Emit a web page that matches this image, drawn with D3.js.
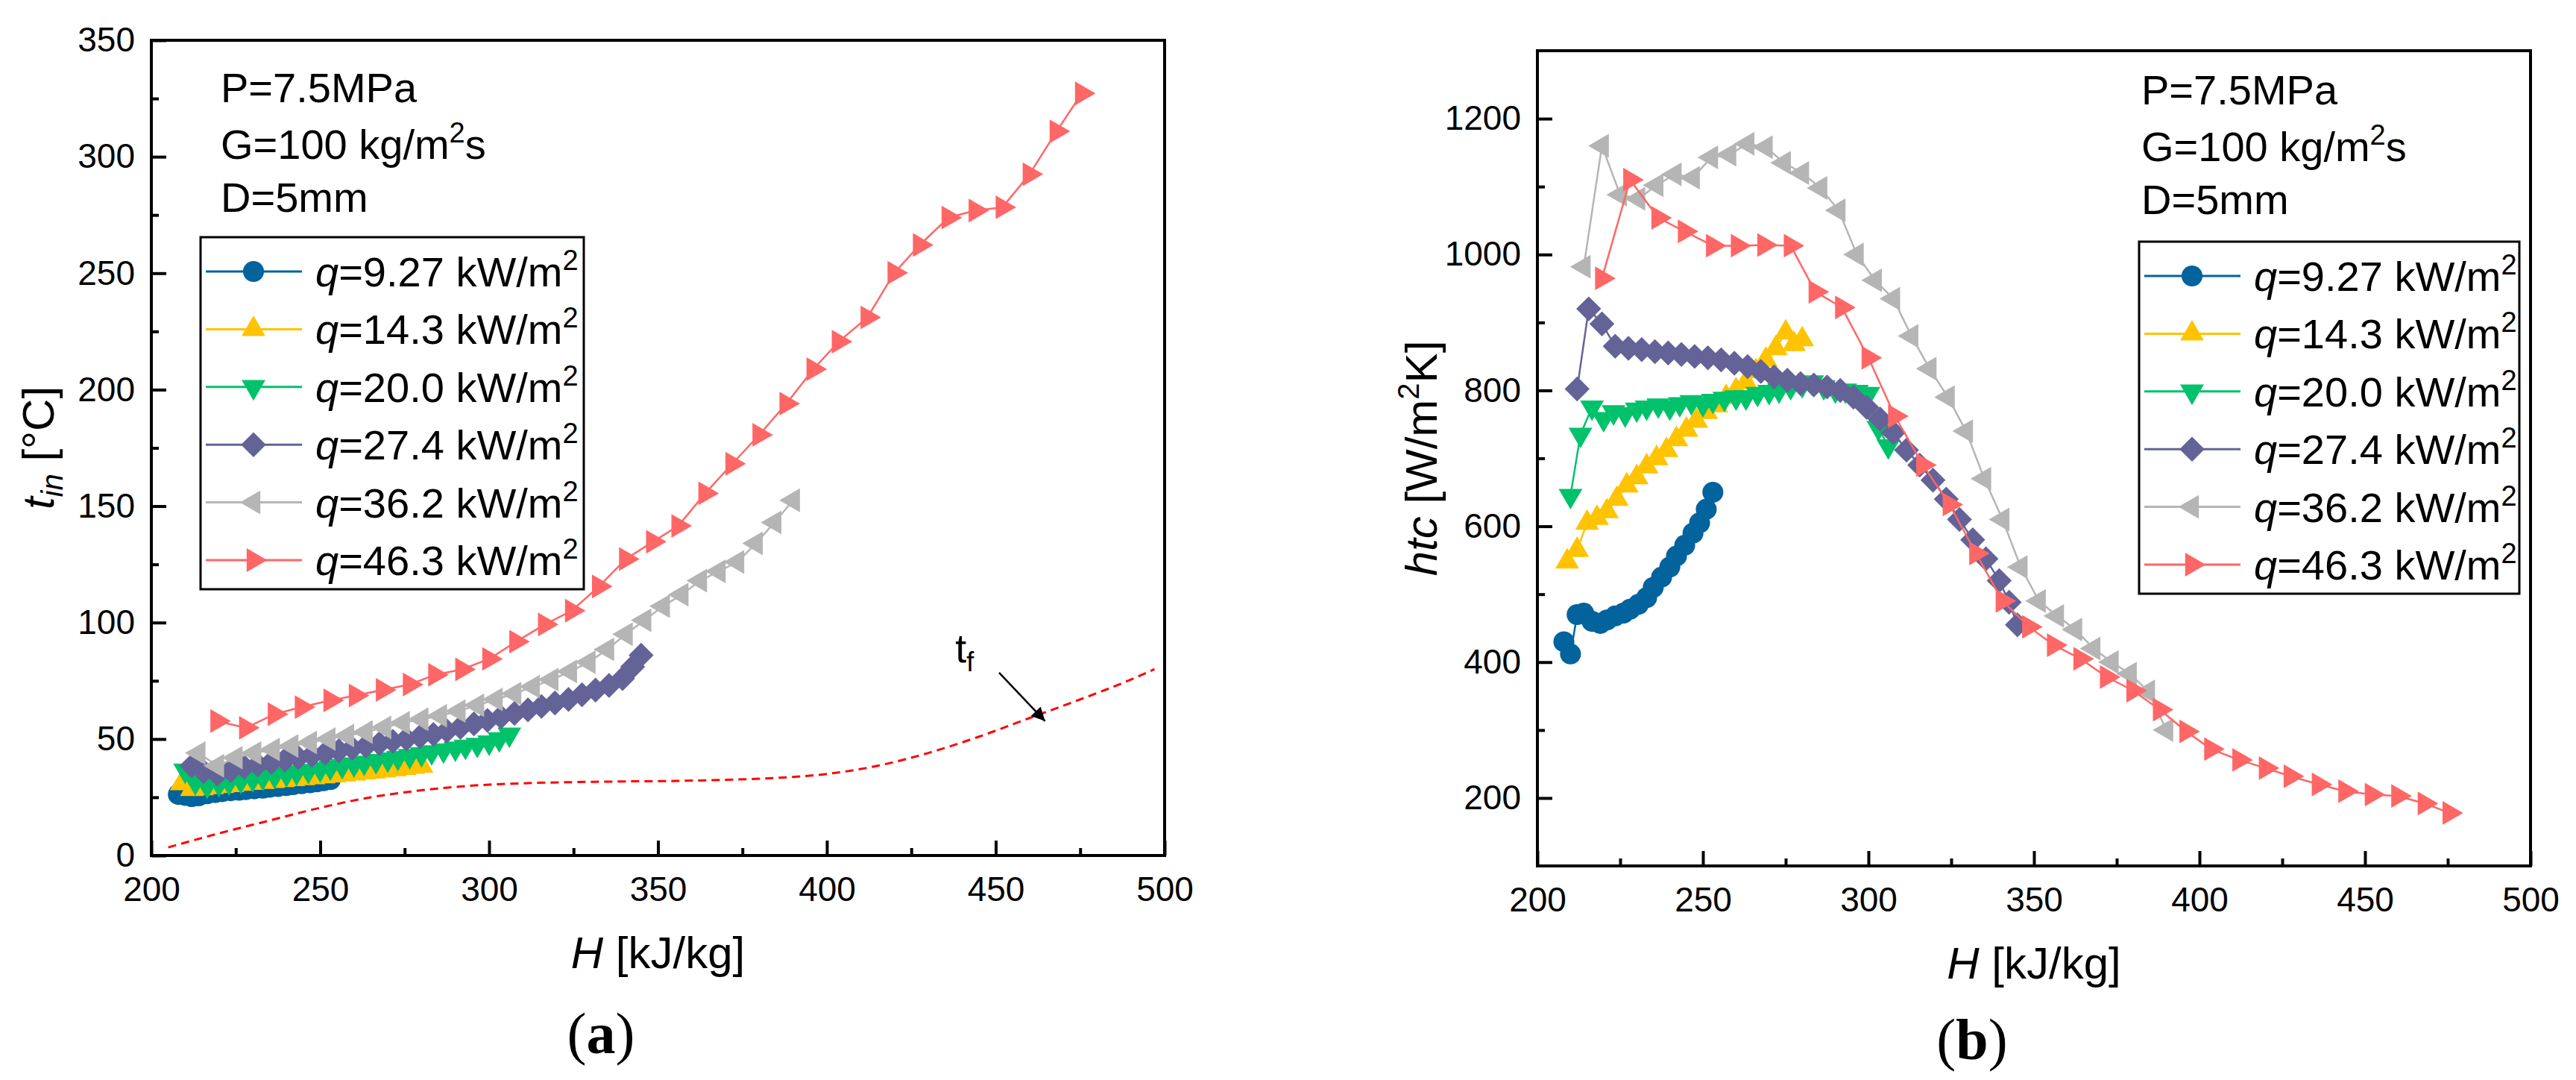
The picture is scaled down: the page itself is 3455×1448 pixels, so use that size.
<!doctype html>
<html lang="en">
  <head>
    <meta charset="UTF-8" />
    <title>tin and htc vs H</title>
    <style>
      body { margin: 0; background: #fff; }
      text { font-family: Arial, "Liberation Sans", sans-serif; }
    </style>
  </head>
  <body>
    <div id="target"></div>
    <script src="https://d3js.org/d3.v7.min.js"></script>
    <script>
      /* global d3 */
      const width = 3455,
        height = 1448;

      // H [kJ/kg], t_in [°C], htc [W/m2K]
      const hBlue = [208, 210, 212, 214, 216.5, 219, 221, 223.5, 226, 228, 230.5, 233, 235, 237.5, 240, 242, 244.5, 247, 249, 251, 253];
      const tBlue = [26.2, 25.8, 25.3, 25.6, 26.5, 27.0, 27.4, 27.8, 28.0, 28.3, 28.6, 28.9, 29.3, 29.6, 30.0, 30.4, 30.8, 31.2, 31.6, 32.1, 32.6];
      const htcBlue = [430, 412, 470, 472, 460, 457, 462, 468, 472, 478, 485, 495, 510, 525, 540, 556, 572, 590, 605, 625, 650];

      const hYellow = [209, 212, 215, 218, 221, 224, 227, 230, 233, 236, 239, 242, 245, 248, 251, 254, 257, 260, 263, 266, 269, 272, 275, 277.5, 280];
      const tYellow = [31.0, 28.5, 28.8, 29.3, 29.8, 30.2, 30.7, 31.1, 31.5, 31.9, 32.3, 32.7, 33.1, 33.5, 33.9, 34.3, 34.7, 35.1, 35.6, 36.0, 36.5, 37.0, 37.5, 38.0, 38.5];
      const htcYellow = [548, 565, 605, 612, 622, 640, 660, 672, 688, 700, 712, 728, 742, 755, 768, 778, 790, 800, 812, 828, 845, 862, 885, 868, 875];

      const hGreen = [210, 213, 216.5, 220, 223, 226.5, 230, 233, 236.5, 240, 243, 246.5, 250, 253, 256.5, 260, 263, 266.5, 270, 273, 276.5, 280, 283, 286.5, 290, 293, 296.5, 300, 303, 306];
      const tGreen = [36.5, 31.5, 30.0, 30.8, 31.5, 32.2, 32.9, 33.6, 34.3, 35.0, 35.7, 36.4, 37.1, 37.8, 38.5, 39.2, 39.9, 40.6, 41.3, 42.0, 42.8, 43.6, 44.4, 45.2, 46.0, 46.8, 47.6, 48.6, 50.0, 52.0];
      const htcGreen = [645, 735, 775, 758, 768, 765, 772, 775, 778, 775, 780, 783, 780, 785, 788, 790, 790, 795, 798, 800, 805, 808, 812, 805, 800, 800, 798, 795, 745, 718];

      const hPurple = [212, 215.5, 219.5, 223.5, 227.5, 231.5, 235.5, 239.5, 243.5, 247.5, 251.5, 255.5, 259.5, 263.5, 267.5, 271.5, 275.5, 279.5, 283.5, 287.5, 291.5, 295.5, 299.5, 303.5, 307.5, 311.5, 315.5, 319.5, 323.5, 327.5, 331.5, 335.5, 339.5, 342.5, 345];
      const tPurple = [38.5, 36.0, 35.0, 36.5, 38.0, 39.0, 40.0, 41.0, 42.0, 43.0, 44.0, 45.0, 46.0, 47.0, 48.0, 49.0, 50.0, 51.0, 52.0, 53.5, 55.0, 56.5, 58.0, 59.5, 61.0, 62.5, 64.0, 65.5, 67.0, 69.0, 71.0, 73.0, 76.0, 81.0, 86.0];
      const htcPurple = [802, 920, 898, 865, 862, 860, 857, 855, 853, 850, 848, 845, 840, 835, 828, 820, 815, 810, 808, 805, 800, 790, 775, 758, 738, 712, 690, 668, 640, 610, 580, 552, 520, 488, 455];

      const hGray = [214, 219.5, 225, 230.5, 236, 241.5, 247, 252.5, 258, 263.5, 269, 274.5, 280, 285.5, 291, 296.5, 302, 307.5, 313, 318.5, 324, 329.5, 335, 340.5, 346, 351.5, 357, 362.5, 368, 373.5, 379, 384.5, 390];
      const tGray = [44.0, 38.5, 42.0, 44.0, 45.5, 47.0, 48.5, 50.0, 51.5, 53.0, 55.0, 57.0, 58.5, 60.0, 62.0, 64.5, 67.0, 69.5, 72.5, 75.5, 79.0, 83.0, 88.5, 95.0, 101, 107, 112, 118, 122, 126, 134, 143, 152.5];
      const htcGray = [982, 1160, 1088, 1082, 1102, 1118, 1113, 1143, 1147, 1163, 1158, 1135, 1120, 1098, 1065, 1000, 962, 935, 880, 832, 790, 740, 670, 610, 540, 490, 468, 448, 420, 400, 383, 357, 300];

      const hRed = [219.5, 228, 236.5, 244.5, 253, 260.5, 268.5, 276.5, 284, 292, 300, 308, 316.5, 324.5, 332.5, 340.5, 348.5, 356, 364, 372, 380, 388, 396, 403.5, 412, 420, 427.5, 436, 444, 452, 460, 468, 475.5];
      const tRed = [57.7, 54.8, 60.7, 63.7, 66.6, 68.7, 71.1, 73.4, 77.6, 79.9, 84.4, 91.8, 99.2, 105.1, 115.5, 127.3, 134.7, 141.5, 155.5, 168.2, 180.6, 194.0, 208.8, 220.6, 231.0, 250.2, 262.1, 273.9, 276.9, 278.3, 292.5, 310.9, 327.2];
      const htcRed = [965, 1110, 1054, 1034, 1013, 1013, 1014, 1013, 945, 922, 848, 762, 690, 632, 560, 490, 452, 425, 405, 378, 358, 330, 298, 272, 256, 244, 232, 220, 210, 205, 203, 192, 178];

      // bulk fluid temperature t_f (dashed)
      const hTf = [205, 220, 235, 250, 265, 280, 295, 310, 325, 340, 355, 370, 385, 400, 415, 430, 445, 460, 475, 490, 497];
      const tTf = [3.5, 9.5, 15, 20.5, 25, 28, 30, 31, 31.5, 31.8, 32, 32.5, 33.3, 35, 38.5, 44, 51, 59, 67, 75.5, 80];

      const qLabels = ["9.27", "14.3", "20.0", "27.4", "36.2", "46.3"];
      const colors = ["#03639d", "#ffc300", "#00c26b", "#636398", "#b5b5b5", "#ff6666"];

      const xTicks = [200, 250, 300, 350, 400, 450, 500];
      const xMinor = [225, 275, 325, 375, 425, 475];
      const tTicks = [0, 50, 100, 150, 200, 250, 300, 350];
      const tMinor = [25, 75, 125, 175, 225, 275, 325];
      const htcTicks = [200, 400, 600, 800, 1000, 1200];
      const htcMinor = [300, 500, 700, 900, 1100];

      const hList = [hBlue, hYellow, hGreen, hPurple, hGray, hRed];
      const tList = [tBlue, tYellow, tGreen, tPurple, tGray, tRed];
      const htcList = [htcBlue, htcYellow, htcGreen, htcPurple, htcGray, htcRed];

      // marker shapes: circle, up, down, diamond, left, right
      const shapes = [
        { type: d3.symbolCircle, size: 620, rot: 0 },
        { type: d3.symbolTriangle, size: 440, rot: 0 },
        { type: d3.symbolTriangle, size: 440, rot: 180 },
        { type: d3.symbolSquare, size: 560, rot: 45 },
        { type: d3.symbolTriangle, size: 440, rot: -90 },
        { type: d3.symbolTriangle, size: 440, rot: 90 },
      ];

      const svg = d3
        .select("#target")
        .append("svg")
        .attr("width", width)
        .attr("height", height)
        .attr("viewBox", [0, 0, width, height]);

      svg.append("rect").attr("width", width).attr("height", height).attr("fill", "#fff");

      svg
        .append("defs")
        .append("marker")
        .attr("id", "arrow")
        .attr("viewBox", "0 0 10 10")
        .attr("refX", 10)
        .attr("refY", 5)
        .attr("markerUnits", "userSpaceOnUse")
        .attr("markerWidth", 24)
        .attr("markerHeight", 18)
        .attr("orient", "auto")
        .append("path")
        .attr("d", "M0,0 L10,5 L0,10 z")
        .attr("fill", "#000");

      function drawPanel(o) {
        const g = svg.append("g");
        const x = d3.scaleLinear().domain([200, 500]).range([o.left, o.right]);
        const y = d3.scaleLinear().domain(o.yDomain).range([o.bottom, o.top]);

        const styleAxis = (a) => {
          a.select(".domain").remove();
          a.selectAll("line").attr("stroke-width", 4);
          a.selectAll("text").attr("font-size", 46).attr("font-family", "Arial, 'Liberation Sans', sans-serif");
        };

        g.append("g")
          .attr("transform", `translate(0,${o.bottom})`)
          .call(d3.axisBottom(x).tickValues(xTicks).tickSize(-20).tickSizeOuter(0).tickPadding(28).tickFormat(d3.format("d")))
          .call(styleAxis);
        g.append("g")
          .attr("transform", `translate(0,${o.bottom})`)
          .call(d3.axisBottom(x).tickValues(xMinor).tickSize(-10).tickSizeOuter(0).tickFormat(""))
          .call(styleAxis);
        g.append("g")
          .attr("transform", `translate(${o.left},0)`)
          .call(d3.axisLeft(y).tickValues(o.yTicks).tickSize(-20).tickSizeOuter(0).tickPadding(22).tickFormat(d3.format("d")))
          .call(styleAxis);
        g.append("g")
          .attr("transform", `translate(${o.left},0)`)
          .call(d3.axisLeft(y).tickValues(o.yMinor).tickSize(-10).tickSizeOuter(0).tickFormat(""))
          .call(styleAxis);

        g.append("rect")
          .attr("x", o.left)
          .attr("y", o.top)
          .attr("width", o.right - o.left)
          .attr("height", o.bottom - o.top)
          .attr("fill", "none")
          .attr("stroke", "#000")
          .attr("stroke-width", 4);

        if (o.extra) o.extra(g, x, y);

        // series
        hList.forEach((hs, i) => {
          const ys = o.values[i];
          const pts = hs.map((h, j) => [x(h), y(ys[j])]);
          g.append("path")
            .attr("d", d3.line()(pts))
            .attr("fill", "none")
            .attr("stroke", colors[i])
            .attr("stroke-width", 2.5);
          const sym = d3.symbol().type(shapes[i].type).size(shapes[i].size);
          g.append("g")
            .selectAll("path")
            .data(pts)
            .join("path")
            .attr("d", sym)
            .attr("transform", (d) => `translate(${d[0]},${d[1]}) rotate(${shapes[i].rot})`)
            .attr("fill", colors[i]);
        });

        // condition text
        const cond = g.append("g").attr("font-size", 56);
        cond.append("text").attr("x", o.condX).attr("y", o.condY).text("P=7.5MPa");
        const gt = cond.append("text").attr("x", o.condX).attr("y", o.condY + 76);
        gt.append("tspan").text("G=100 kg/m");
        gt.append("tspan").attr("dy", -22).attr("font-size", 38).text("2");
        gt.append("tspan").attr("dy", 22).text("s");
        cond.append("text").attr("x", o.condX).attr("y", o.condY + 147).text("D=5mm");

        // legend
        const lg = g.append("g").attr("transform", `translate(${o.legX},${o.legY})`);
        lg.append("rect")
          .attr("width", o.legW)
          .attr("height", 472)
          .attr("fill", "#fff")
          .attr("stroke", "#000")
          .attr("stroke-width", 3);
        qLabels.forEach((q, i) => {
          const ry = 46 + i * 77.4;
          lg.append("line")
            .attr("x1", 7)
            .attr("x2", 136)
            .attr("y1", ry)
            .attr("y2", ry)
            .attr("stroke", colors[i])
            .attr("stroke-width", 3);
          lg.append("path")
            .attr("d", d3.symbol().type(shapes[i].type).size(shapes[i].size))
            .attr("transform", `translate(71,${ry}) rotate(${shapes[i].rot})`)
            .attr("fill", colors[i]);
          const t = lg.append("text").attr("x", 154).attr("y", ry + 20).attr("font-size", 56);
          t.append("tspan").attr("font-style", "italic").text("q");
          t.append("tspan").text(`=${q} kW/m`);
          t.append("tspan").attr("dy", -22).attr("font-size", 38).text("2");
        });

        // axis titles
        const xt = g.append("text")
          .attr("x", (o.left + o.right) / 2)
          .attr("y", o.bottom + 151)
          .attr("text-anchor", "middle")
          .attr("font-size", 60);
        xt.append("tspan").attr("font-style", "italic").text("H");
        xt.append("tspan").text(" [kJ/kg]");

        const yt = g.append("text")
          .attr("transform", `translate(${o.yTitleX},${(o.top + o.bottom) / 2}) rotate(-90)`)
          .attr("text-anchor", "middle")
          .attr("font-size", 60);
        o.yTitle(yt);

        const pl = g.append("text")
          .attr("x", o.panelX)
          .attr("y", o.panelY)
          .attr("text-anchor", "middle")
          .attr("font-size", 78)
          .attr("font-family", "'Liberation Serif', 'Times New Roman', serif")
          .style("font-family", "'Liberation Serif', 'Times New Roman', serif");
        pl.append("tspan").text("(");
        pl.append("tspan").attr("font-weight", "bold").text(o.panelLetter);
        pl.append("tspan").text(")");
      }

      drawPanel({
        left: 203,
        right: 1562,
        top: 54,
        bottom: 1147,
        yDomain: [0, 350],
        yTicks: tTicks,
        yMinor: tMinor,
        values: tList,
        condX: 296,
        condY: 137,
        legX: 269,
        legY: 318,
        legW: 514,
        yTitleX: 72,
        yTitle: (t) => {
          t.append("tspan").attr("font-style", "italic").text("t");
          t.append("tspan").attr("font-style", "italic").attr("font-size", 40).attr("dy", 12).text("in");
          t.append("tspan").attr("dy", -12).text(" [°C]");
        },
        panelX: 806,
        panelY: 1412,
        panelLetter: "a",
        extra: (g, x, y) => {
          g.append("path")
            .attr("d", d3.line().curve(d3.curveMonotoneX)(hTf.map((h, j) => [x(h), y(tTf[j])])))
            .attr("fill", "none")
            .attr("stroke", "#ff0000")
            .attr("stroke-width", 3)
            .attr("stroke-dasharray", "11,7");
          g.append("line")
            .attr("x1", x(451))
            .attr("y1", y(78.5))
            .attr("x2", x(464.6))
            .attr("y2", y(57.7))
            .attr("stroke", "#000")
            .attr("stroke-width", 2.5)
            .attr("marker-end", "url(#arrow)");
          const tf = g.append("text").attr("x", x(438)).attr("y", y(83)).attr("font-size", 54);
          tf.append("tspan").text("t");
          tf.append("tspan").attr("font-size", 36).attr("dy", 12).text("f");
        },
      });

      drawPanel({
        left: 2062,
        right: 3394,
        top: 68,
        bottom: 1161,
        yDomain: [100, 1300],
        yTicks: htcTicks,
        yMinor: htcMinor,
        values: htcList,
        condX: 2872,
        condY: 140,
        legX: 2869,
        legY: 324,
        legW: 510,
        yTitleX: 1927,
        yTitle: (t) => {
          t.append("tspan").attr("font-style", "italic").text("htc");
          t.append("tspan").text(" [W/m");
          t.append("tspan").attr("dy", -24).attr("font-size", 40).text("2");
          t.append("tspan").attr("dy", 24).text("K]");
        },
        panelX: 2645,
        panelY: 1420,
        panelLetter: "b",
      });
    </script>
  </body>
</html>
